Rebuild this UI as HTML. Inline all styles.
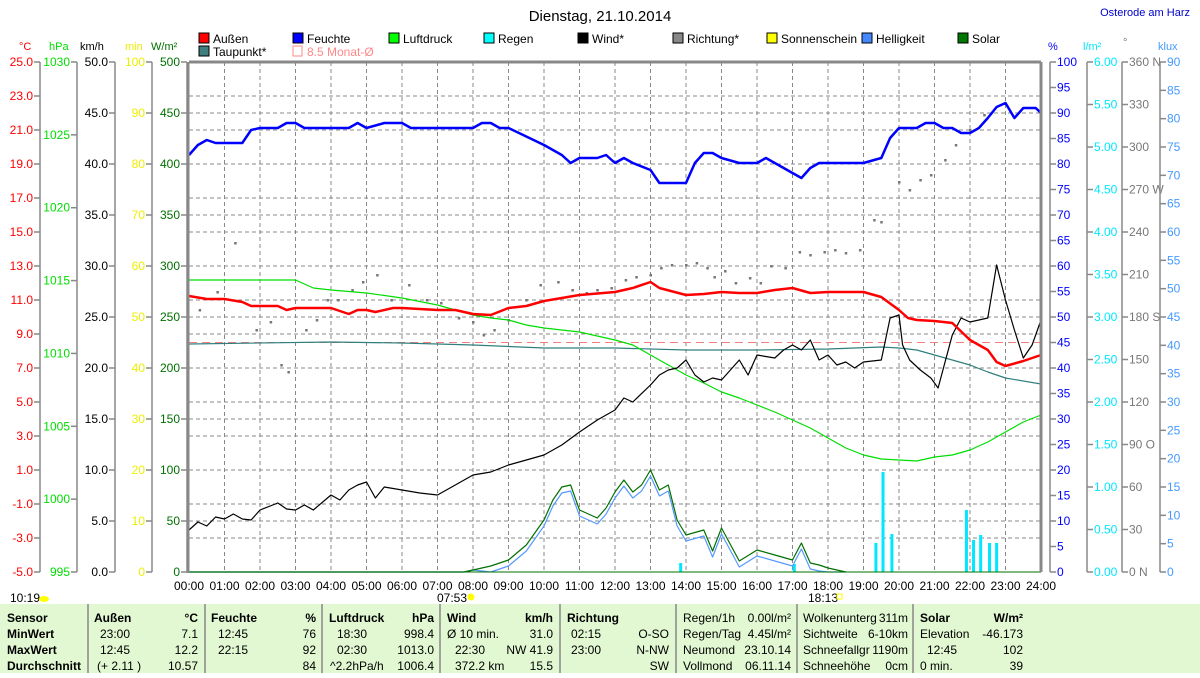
<!DOCTYPE html>
<html><head><meta charset="utf-8"><style>
body{margin:0;width:1200px;height:673px;overflow:hidden;background:#fff;font-family:"Liberation Sans",sans-serif}
svg text{font-family:"Liberation Sans",sans-serif}
</style></head><body>
<svg id="s" width="1200" height="673" xmlns="http://www.w3.org/2000/svg"></svg>
<script>
const S=document.getElementById('s');let h='';
const X0=189,HW=35.5,T=62,B=572;
const X=t=>X0+t*HW;
function txt(x,y,s,c,sz,a,w){h+=`<text x="${x}" y="${y}" fill="${c}" font-size="${sz||11}" text-anchor="${a||'start'}" ${w?'font-weight="bold"':''}>${s}</text>`}
function line(x1,y1,x2,y2,c,w,d){h+=`<line x1="${x1}" y1="${y1}" x2="${x2}" y2="${y2}" stroke="${c}" stroke-width="${w||1}" ${d?`stroke-dasharray="${d}"`:''}/>`}
function pl(pts,c,w){h+=`<polyline fill="none" stroke="${c}" stroke-width="${w}" stroke-linejoin="round" points="${pts.map(p=>X(p[0]).toFixed(1)+','+p[1]).join(' ')}"/>`}
function P(a){let r=[];for(let i=0;i<a.length;i+=2)r.push([a[i],a[i+1]]);return r}
for(let i=1;i<24;i++)line(X(i),T,X(i),B,'#888',1,'4,3');
for(let i=1;i<15;i++)line(X0,T+i*34,X(24),T+i*34,'#888',1,'4,3');
for(let i=1;i<10;i++){let y=T+i*51;if((i*51)%34)line(X0,y,X(24),y,'#888',1,'4,3')}
line(X0,342.5,X(24),342.5,'#f08080',1,'8,5');
const dots=[0.3,310,0.8,292,1.3,243,1.9,330,2.3,322,2.6,365,2.8,372,3.3,330,3.6,320,3.9,300,4.2,300,4.6,290,4.9,282,5.3,275,5.7,300,6.2,285,6.7,300,7.1,303,7.6,318,8,322,8.3,335,8.6,330,9,320,9.5,300,9.9,285,10.4,282,10.8,290,11.2,293,11.5,290,11.9,288,12.3,280,12.6,277,13,275,13.3,268,13.6,265,14,265,14.3,263,14.6,268,14.8,277,15.1,271,15.4,283,15.8,278,16.1,283,16.4,266,16.8,268,17.2,252,17.5,255,17.9,252,18.2,250,18.5,253,18.9,250,19.3,220,19.5,222,20,182,20.3,190,20.6,180,20.9,175,21.3,160,21.6,145,22,130,22.4,115];
for(let i=0;i<dots.length;i+=2)h+=`<rect x="${X(dots[i])-1}" y="${dots[i+1]-1}" width="2.5" height="2.5" fill="#777"/>`;
[[13.85,563],[17.05,564],[19.35,543],[19.55,472],[19.8,534],[21.9,510],[22.1,540],[22.3,535],[22.55,543],[22.75,543]].forEach(b=>h+=`<rect x="${X(b[0])-1.5}" y="${b[1]}" width="3" height="${B-b[1]}" fill="#00e8ff"/>`);
const sol=P([0,572,7.75,572,8,570,8.5,566,9,560,9.5,545,10,520,10.25,500,10.5,487,10.75,485,11,510,11.5,518,11.75,508,12,492,12.25,480,12.5,492,12.75,485,13,470,13.25,490,13.5,485,13.75,520,14,535,14.5,530,14.75,551,15,528,15.5,561,16,550,16.5,555,17,560,17.25,543,17.5,563,17.75,565,18,568,18.5,572]);
pl(sol.map(p=>[p[0],Math.min(572,p[1]+(p[1]<570?6:0))]),'#5599ff',1.2);
pl(sol,'#007000',1.2);
pl([[0,572],[24,572]],'#007000',1);
pl(P([0,344,4,342,6,343,8,345,10,348,12,348,14,350,16,350,18,349,19.5,347,20,348,20.5,350,21,355,22,365,22.5,372,23,378,24,384]),'#2f7f7f',1.2);
pl(P([0,280,3,280,3.5,288,4,290,5,293,6,298,7,305,8,315,8.5,318,9,320,9.5,325,10,328,11,332,12,340,12.5,345,13,355,13.5,365,14,375,14.5,383,15,392,15.5,398,16,405,16.5,412,17,420,17.5,428,18,438,18.5,448,19,455,19.5,459,20,460,20.5,461,21,457,21.5,455,22,450,22.5,442,23,432,23.5,422,24,415]),'#00dd00',1.2);
pl(P([0,530,.25,522,.5,526,.75,517,1,519,1.25,514,1.5,519,1.75,520,2,510,2.5,503,2.75,509,3,510,3.25,505,3.5,510,4,495,4.25,500,4.5,490,4.75,485,5,482,5.25,498,5.5,487,6,490,6.5,493,7,495,7.5,485,8,475,8.5,472,9,465,9.5,460,10,455,10.5,445,11,432,11.5,420,12,410,12.25,398,12.5,402,13,385,13.25,375,13.5,370,13.75,368,14,360,14.25,375,14.5,382,14.75,378,15,380,15.5,360,15.75,375,16,355,16.5,358,16.75,350,17,345,17.25,350,17.5,340,17.75,360,18,355,18.25,365,18.5,362,18.75,368,19,362,19.5,360,19.75,318,20,315,20.1,345,20.3,360,20.6,370,20.9,378,21.1,388,21.5,335,21.75,318,22,322,22.5,318,22.75,265,23,300,23.25,330,23.5,358,23.75,345,24,320]),'#000',1.2);
pl(P([0,296,.5,299,1,299,1.5,302,1.75,306,2.5,306,2.75,310,3,308,4,308,4.5,314,4.75,310,5,310,5.25,312,5.75,308,6,308,7,310,7.5,310,8,314,8.5,315,9,308,9.5,306,10,301,10.5,298,11,295,12,292,12.5,288,13,282,13.25,288,14,295,14.5,294,15,292,15.5,293,16,293,16.5,290,17,288,17.5,293,18,292,19,292,19.5,297,20,310,20.25,318,20.5,320,21,321,21.5,323,22,340,22.5,350,22.75,362,23,366,23.5,361,24,355]),'#ff0000',2.5);
pl(P([0,155,.25,145,.5,140,.75,143,1.5,143,1.75,130,2,128,2.5,128,2.75,123,3,123,3.25,128,4.5,128,4.75,123,5,128,5.5,123,6,123,6.25,128,8,128,8.25,123,8.5,123,8.75,128,9,128,10,145,10.5,155,10.75,163,11,158,11.5,158,11.75,155,12,163,12.25,158,12.5,163,13,170,13.25,183,14,183,14.25,163,14.5,153,14.75,153,15,158,15.5,163,16,163,16.25,158,16.5,163,17,173,17.25,178,17.5,168,17.75,163,18.5,163,19,163,19.5,158,19.75,138,20,128,20.5,128,20.75,123,21,123,21.25,128,21.5,128,21.75,133,22,133,22.25,128,22.5,118,22.75,107,23,103,23.25,118,23.5,108,23.85,108,24,113,24,128]),'#0000ff',2.5);
line(X0,T,X(24),T,'#888',3);line(X0-1,T,X0-1,B+1,'#888',3);line(X(24),T,X(24),B,'#888',3);
const L=[[40,'#f00',16,v=>(25-v*2).toFixed(1)],[77,'#0d0',8,v=>1030-v*5],[115,'#000',11,v=>(50-v*5).toFixed(1)],[152,'#ee0',11,v=>100-v*10],[187,'#007000',11,v=>500-v*50]];
L.forEach(([ax,c,n,f])=>{line(ax,T,ax,B,'#888',1.5);for(let i=0;i<n;i++){let y=T+i*510/(n-1);line(ax-6,y,ax,y,'#888',1.5);txt(ax-7,y+4,f(i),c,12,'end')}});
const dirs=['360 N','330','300','270 W','240','210','180 S','150','120','90 O','60','30','0 N'];
const R=[[1050,'#0000ff',21,i=>100-i*5],[1087,'#00e8ff',13,i=>(6-i*0.5).toFixed(2)],[1122,'#777',13,i=>dirs[i]],[1160,'#4499ff',19,i=>90-i*5]];
R.forEach(([ax,c,n,f])=>{line(ax,T,ax,B,'#888',1.5);for(let i=0;i<n;i++){let y=T+i*510/(n-1);line(ax,y,ax+6,y,'#888',1.5);txt(ax+7,y+4,f(i),c,12)}});
txt(19,50,'°C','#f00');txt(49,50,'hPa','#0d0');txt(80,50,'km/h','#000');txt(125,50,'min','#ee0');txt(151,50,'W/m²','#007000');
txt(1048,50,'%','#0000ff');txt(1083,50,'l/m²','#00e8ff');txt(1123,46,'°','#777');txt(1158,50,'klux','#4499ff');
txt(600,21,'Dienstag, 21.10.2014','#000',15,'middle');txt(1190,16,'Osterode am Harz','#0000cc',11,'end');
const lg=[[199,'#f00','Außen'],[293,'#00f','Feuchte'],[389,'#0f0','Luftdruck'],[484,'#0ff','Regen'],[578,'#000','Wind*'],[673,'#888','Richtung*'],[767,'#ff0','Sonnenschein'],[862,'#48f','Helligkeit'],[958,'#070','Solar']];
lg.forEach(([x,c,t])=>{h+=`<rect x="${x}" y="33" width="10" height="10" fill="${c}" stroke="#000"/>`;txt(x+14,43,t,'#000',12)});
h+=`<rect x="199" y="46" width="10" height="10" fill="#3f7f7f" stroke="#000"/>`;txt(213,56,'Taupunkt*','#000',12);
h+=`<rect x="293" y="46" width="9" height="10" fill="none" stroke="#f88"/>`;txt(307,56,'8.5 Monat-Ø','#f88',12);
for(let i=0;i<=24;i++)txt(X(i),590,(i<10?'0':'')+i+':00','#000',12,'middle');
txt(10,602,'10:19','#000',12);h+=`<ellipse cx="44" cy="599" rx="5" ry="3" fill="#ff0"/>`;
txt(437,602,'07:53','#000',12);h+=`<circle cx="471" cy="597" r="3.5" fill="#ff0"/>`;
txt(808,602,'18:13','#000',12);h+=`<rect x="837" y="594" width="5" height="5" fill="none" stroke="#ff0"/>`;
h+=`<rect x="0" y="604" width="1200" height="69" fill="#e2f8d2"/>`;
[88,205,322,440,560,676,797,913].forEach(x=>line(x,604,x,673,'#888',1.5));
const rows=[622,638,654,670];
const cell=(x,r,s,a,b)=>txt(x,rows[r],s,'#000',12,a,b);
['Sensor','MinWert','MaxWert','Durchschnitt'].forEach((s,i)=>cell(7,i,s,'start',1));
cell(94,0,'Außen','start',1);cell(198,0,'°C','end',1);cell(100,1,'23:00');cell(198,1,'7.1','end');cell(100,2,'12:45');cell(198,2,'12.2','end');cell(97,3,'(+ 2.11 )');cell(198,3,'10.57','end');
cell(211,0,'Feuchte','start',1);cell(316,0,'%','end',1);cell(218,1,'12:45');cell(316,1,'76','end');cell(218,2,'22:15');cell(316,2,'92','end');cell(316,3,'84','end');
cell(329,0,'Luftdruck','start',1);cell(434,0,'hPa','end',1);cell(337,1,'18:30');cell(434,1,'998.4','end');cell(337,2,'02:30');cell(434,2,'1013.0','end');cell(330,3,'^2.2hPa/h');cell(434,3,'1006.4','end');
cell(447,0,'Wind','start',1);cell(553,0,'km/h','end',1);cell(447,1,'Ø 10 min.');cell(553,1,'31.0','end');cell(455,2,'22:30');cell(553,2,'NW 41.9','end');cell(455,3,'372.2 km');cell(553,3,'15.5','end');
cell(567,0,'Richtung','start',1);cell(571,1,'02:15');cell(669,1,'O-SO','end');cell(571,2,'23:00');cell(669,2,'N-NW','end');cell(669,3,'SW','end');
cell(683,0,'Regen/1h');cell(791,0,'0.00l/m²','end');cell(683,1,'Regen/Tag');cell(791,1,'4.45l/m²','end');cell(683,2,'Neumond');cell(791,2,'23.10.14','end');cell(683,3,'Vollmond');cell(791,3,'06.11.14','end');
cell(803,0,'Wolkenunterg');cell(908,0,'311m','end');cell(803,1,'Sichtweite');cell(908,1,'6-10km','end');cell(803,2,'Schneefallgr');cell(908,2,'1190m','end');cell(803,3,'Schneehöhe');cell(908,3,'0cm','end');
cell(920,0,'Solar','start',1);cell(1023,0,'W/m²','end',1);cell(920,1,'Elevation');cell(1023,1,'-46.173','end');cell(927,2,'12:45');cell(1023,2,'102','end');cell(920,3,'0 min.');cell(1023,3,'39','end');
S.innerHTML=h;
</script>
</body></html>
